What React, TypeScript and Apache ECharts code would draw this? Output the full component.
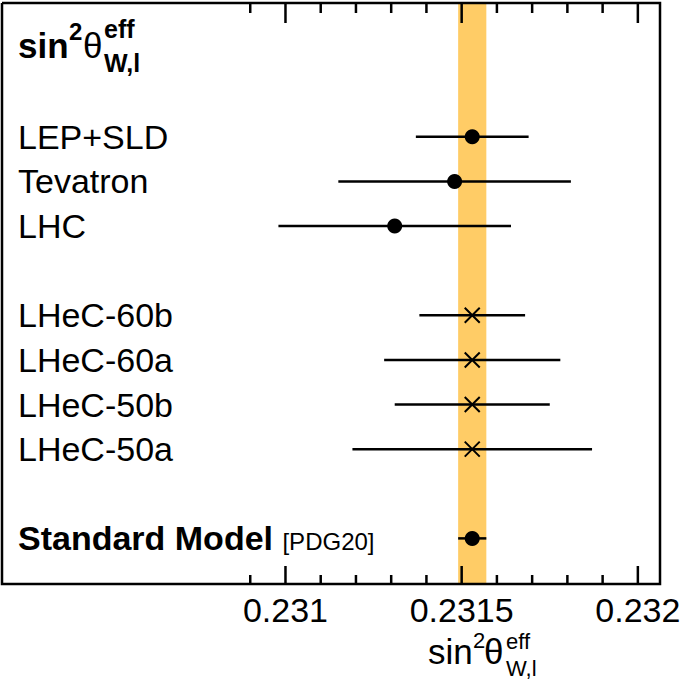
import React, { useEffect, useRef } from "react";
import * as echarts from "echarts";

// ---- data ----
const NAMES = ["LEP+SLD", "Tevatron", "LHC", "LHeC-60b", "LHeC-60a", "LHeC-50b", "LHeC-50a"];
const ROWS = [3, 4, 5, 7, 8, 9, 10];
const CENTRAL = [0.23153, 0.23148, 0.23131, 0.23153, 0.23153, 0.23153, 0.23153];
const ERRORS = [0.00016, 0.00033, 0.00033, 0.00015, 0.00025, 0.00022, 0.00034];
const MARKERS = ["circle", "circle", "circle", "cross", "cross", "cross", "cross"];

const SM_NAME = "Standard Model";
const SM_REF = "[PDG20]";
const SM_ROW = 12;
const SM_VALUE = 0.23153;
const SM_ERROR = 0.00004;

const MAJOR_TICKS = [0.231, 0.2315, 0.232];
const MAJOR_LABELS = ["0.231", "0.2315", "0.232"];
const MINOR_TICKS = [0.2309, 0.2311, 0.2312, 0.2313, 0.2314, 0.2316, 0.2317, 0.2318, 0.2319];

const X_MIN = 0.2308;
const X_MAX = 0.23206;
const X_STEP = 0.0001;
const Y_MIN = 0;
const Y_MAX = 13;

const FONT = "'Liberation Sans', Arial, Helvetica, sans-serif";
const CROSS = "path://M0,0L10,10M10,0L0,10";

function App() {
  const ref = useRef<HTMLDivElement | null>(null);

  useEffect(() => {
    if (!ref.current) return;
    const chart = echarts.init(ref.current, null, { renderer: "svg" });

    const tickData = [
      ...MAJOR_TICKS.map((v) => [v, 1]),
      ...MINOR_TICKS.map((v) => [v, 0]),
    ];
    const barData = NAMES.map((_, i) => [CENTRAL[i] - ERRORS[i], CENTRAL[i] + ERRORS[i], ROWS[i]]);
    barData.push([SM_VALUE - SM_ERROR, SM_VALUE + SM_ERROR, SM_ROW]);

    const circleData: number[][] = [];
    const crossData: number[][] = [];
    NAMES.forEach((_, i) => {
      (MARKERS[i] === "circle" ? circleData : crossData).push([CENTRAL[i], ROWS[i]]);
    });
    circleData.push([SM_VALUE, SM_ROW]);

    const labelOf = (v: number) => {
      const r = Math.round(v);
      const idx = ROWS.indexOf(r);
      if (idx >= 0) return NAMES[idx];
      if (r === SM_ROW) return "{b|" + SM_NAME + "} {s|" + SM_REF + "}";
      return "";
    };

    const xLabel = (v: number) => {
      for (let i = 0; i < MAJOR_TICKS.length; i++) {
        if (Math.abs(v - MAJOR_TICKS[i]) < 1e-9) return MAJOR_LABELS[i];
      }
      return "";
    };

    const mid = (baseline: number, f: number) => baseline - 0.3465 * f;
    const txt = (text: string, x: number, baseline: number, f: number, weight: string) => ({
      type: "text",
      x,
      y: mid(baseline, f),
      z: 100,
      style: {
        text,
        fill: "#000",
        font: `${weight} ${f}px ${FONT}`,
        align: "left",
        verticalAlign: "middle",
        textAlign: "left",
        textVerticalAlign: "middle",
      },
    });

    const xAxisBase = {
      type: "value",
      min: X_MIN,
      max: X_MAX,
      interval: X_STEP,
      axisLine: { show: false },
      axisTick: { show: false },
      splitLine: { show: false },
    };

    const option: any = {
      animation: false,
      backgroundColor: "#fff",
      grid: { left: 215, top: 3, width: 444, height: 580, containLabel: false },
      xAxis: [
        {
          ...xAxisBase,
          position: "bottom",
          axisLabel: {
            show: true,
            formatter: xLabel,
            color: "#000",
            fontSize: 34,
            fontFamily: FONT,
            margin: 10,
          },
        },
        {
          ...xAxisBase,
          position: "top",
          axisLabel: { show: false },
        },
      ],
      yAxis: {
        type: "value",
        min: Y_MIN,
        max: Y_MAX,
        interval: 1,
        inverse: true,
        axisLine: { show: false },
        axisTick: { show: false },
        splitLine: { show: false },
        axisLabel: {
          show: true,
          formatter: labelOf,
          align: "left",
          margin: 197,
          color: "#000",
          fontSize: 34,
          fontFamily: FONT,
          rich: {
            b: { fontSize: 34, fontWeight: "bold", fontFamily: FONT, color: "#000", verticalAlign: "bottom" },
            s: { fontSize: 24, fontFamily: FONT, color: "#000", verticalAlign: "bottom", padding: [0, 0, 2, 0] },
          },
        },
      },
      series: [
        {
          type: "scatter",
          name: "band",
          data: [],
          z: 1,
          markArea: {
            silent: true,
            itemStyle: { color: "#FFCC66", opacity: 1 },
            data: [[{ xAxis: SM_VALUE - SM_ERROR }, { xAxis: SM_VALUE + SM_ERROR }]],
          },
        },
        {
          type: "custom",
          name: "ticks",
          z: 5,
          data: tickData,
          encode: { x: 0 },
          renderItem: (_p: any, api: any) => {
            const v = api.value(0);
            const major = api.value(1) === 1;
            const b = api.coord([v, Y_MAX]);
            const t = api.coord([v, Y_MIN]);
            const lb = major ? 17 : 8;
            const lt = major ? 20 : 10;
            const st = { stroke: "#000", lineWidth: 2.5 };
            return {
              type: "group",
              children: [
                { type: "line", shape: { x1: b[0], y1: b[1], x2: b[0], y2: b[1] - lb }, style: st },
                { type: "line", shape: { x1: t[0], y1: t[1], x2: t[0], y2: t[1] + lt }, style: st },
              ],
            };
          },
        },
        {
          type: "custom",
          name: "errors",
          z: 3,
          data: barData,
          encode: { x: [0, 1], y: 2 },
          renderItem: (_p: any, api: any) => {
            const a = api.coord([api.value(0), api.value(2)]);
            const b = api.coord([api.value(1), api.value(2)]);
            return {
              type: "line",
              shape: { x1: a[0], y1: a[1], x2: b[0], y2: b[1] },
              style: { stroke: "#000", lineWidth: 2.5 },
            };
          },
        },
        {
          type: "scatter",
          name: "circles",
          z: 4,
          symbol: "circle",
          symbolSize: 15,
          data: circleData,
          itemStyle: { color: "#000", opacity: 1 },
        },
        {
          type: "scatter",
          name: "crosses",
          z: 4,
          symbol: CROSS,
          symbolSize: 15,
          data: crossData,
          itemStyle: { color: "transparent", borderColor: "#000", borderWidth: 2, opacity: 1 },
        },
      ],
      graphic: [
        {
          type: "polyline",
          z: 100,
          shape: { points: [[2, 3], [660, 3], [660, 584], [2, 584], [2, 3]] },
          style: { fill: "none", stroke: "#000", lineWidth: 2.5 },
        },
        txt("sin", 18, 58, 35, "bold"),
        txt("2", 69, 40, 24, "bold"),
        txt("θ", 83, 58, 35, "normal"),
        txt("eff", 104, 38, 25, "bold"),
        txt("W,l", 104, 72, 25, "bold"),
        txt("sin", 428, 664, 35, "normal"),
        txt("2", 473, 648, 22, "normal"),
        txt("θ", 484, 664, 35, "normal"),
        txt("eff", 506, 649, 22, "normal"),
        txt("W,l", 506, 676, 22, "normal"),
      ],
    };

    chart.setOption(option);
    return () => chart.dispose();
  }, []);

  return (
    <div
      ref={ref}
      style={{ position: "absolute", left: 0, top: 0, width: 684, height: 685 }}
    />
  );
}

export default App;
